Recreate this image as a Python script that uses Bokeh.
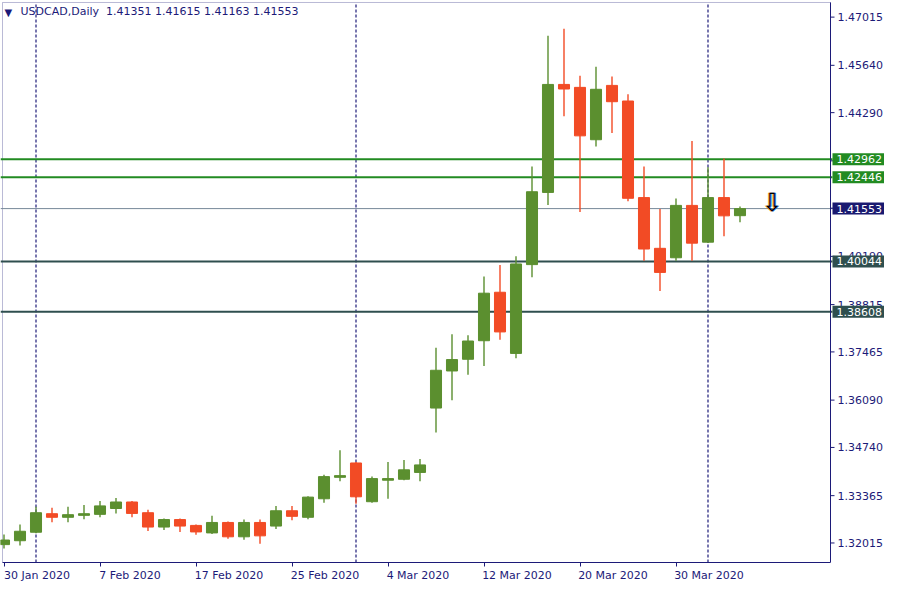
import pandas as pd
from bokeh.plotting import figure
from bokeh.models import (ColumnDataSource, FixedTicker, Label, Range1d,
                          BoxAnnotation)
from bokeh.embed import file_html
from bokeh.resources import INLINE
from bokeh.core.properties import value

# ---------------- data ----------------
dates = pd.bdate_range("2020-01-30", "2020-04-03")

opens = [1.31968, 1.32079, 1.32321, 1.32850, 1.32747, 1.32803, 1.32831, 1.32998,
         1.33184, 1.32878, 1.32469, 1.32683, 1.32516, 1.32302, 1.32600, 1.32191,
         1.32600, 1.32497, 1.32934, 1.32747, 1.33276, 1.33888, 1.34297, 1.33192,
         1.33805, 1.33832, 1.34027, 1.35864, 1.36921, 1.37255, 1.37784, 1.39167,
         1.37422, 1.39955, 1.42014, 1.45095, 1.45011, 1.43517, 1.45067, 1.44622,
         1.41867, 1.40420, 1.40150, 1.41644, 1.40595, 1.41867, 1.41351]
highs = [1.32257, 1.32544, 1.33045, 1.33017, 1.33045, 1.33100, 1.33212, 1.33295,
         1.33212, 1.32961, 1.32711, 1.32711, 1.32544, 1.32794, 1.32628, 1.32683,
         1.32683, 1.33073, 1.33073, 1.33351, 1.33963, 1.34659, 1.34325, 1.33908,
         1.34325, 1.34381, 1.34408, 1.37581, 1.37971, 1.37943, 1.39613, 1.39946,
         1.40197, 1.42757, 1.46486, 1.46681, 1.45345, 1.45596, 1.45318, 1.44817,
         1.42757, 1.41541, 1.41839, 1.43481, 1.42729, 1.42980, 1.41615]
lows = [1.31857, 1.31940, 1.32294, 1.32608, 1.32608, 1.32691, 1.32747, 1.32858,
        1.32747, 1.32357, 1.32385, 1.32330, 1.32246, 1.32274, 1.32135, 1.32107,
        1.31996, 1.32413, 1.32664, 1.32691, 1.33165, 1.33777, 1.33137, 1.33165,
        1.33276, 1.33805, 1.33777, 1.35168, 1.36087, 1.36810, 1.37061, 1.37812,
        1.37283, 1.39593, 1.41652, 1.44185, 1.41458, 1.43322, 1.43712, 1.41764,
        1.40066, 1.39203, 1.40066, 1.40066, 1.40573, 1.40762, 1.41163]
closes = [1.32099, 1.32349, 1.32878, 1.32747, 1.32822, 1.32850, 1.33073, 1.33184,
          1.32858, 1.32469, 1.32683, 1.32497, 1.32330, 1.32600, 1.32191, 1.32600,
          1.32218, 1.32934, 1.32775, 1.33323, 1.33908, 1.33936, 1.33332, 1.33852,
          1.33852, 1.34102, 1.34241, 1.36941, 1.37247, 1.37776, 1.39140, 1.38035,
          1.39974, 1.42034, 1.45095, 1.44964, 1.43628, 1.44956, 1.44602, 1.41847,
          1.40400, 1.39732, 1.41644, 1.40567, 1.41867, 1.41346, 1.41553]

x_tick_idx = [0, 6, 12, 18, 24, 30, 36, 42]
y_ticks = [1.47015, 1.45640, 1.44290, 1.42915, 1.41565, 1.40190, 1.38815,
           1.37465, 1.36090, 1.34740, 1.33365, 1.32015]
level_values = [1.42962, 1.42446, 1.40044, 1.38608]
level_colors = ["#228b22", "#228b22", "#2f4f4f", "#2f4f4f"]
symbol = "USDCAD,Daily"
arrow_idx = 48

# ---------------- style / layout ----------------
NAVY = "#1c1a78"
UP = "#5b8f2f"
DOWN = "#f24b25"
FONT = "DejaVu Sans"

W, H = 884, 584
BOTTOM = 20
FRAME_H = H - BOTTOM
PX = 16.0                      # pixels per bar
x_start = -3.5 / PX
x_end = x_start + W / PX
x_box = x_start + 2 / PX       # left edge of chart box
x_axis = x_start + 830 / PX    # price-scale line
y_bot, y_box_top = 1.31458, 1.47432
sy = (y_box_top - y_bot) / (FRAME_H - 2)
y_top = y_box_top + 2 * sy

n = len(closes)
xs = list(range(n))
colors = [UP if c >= o else DOWN for o, c in zip(opens, closes)]
src = ColumnDataSource(dict(
    x=xs,
    top=[max(o, c) for o, c in zip(opens, closes)],
    bottom=[min(o, c) for o, c in zip(opens, closes)],
    high=highs, low=lows, color=colors))

p = figure(width=W, height=H, output_backend="svg", toolbar_location=None,
           x_range=Range1d(x_start, x_end), y_range=Range1d(y_bot, y_top),
           y_axis_location=None, min_border_left=0, min_border_top=0,
           min_border_right=0, min_border_bottom=BOTTOM,
           background_fill_color="white", border_fill_color="white",
           outline_line_color=None)
p.grid.visible = False

# chart box
p.add_layout(BoxAnnotation(left=x_box, right=x_axis, bottom=y_bot, top=y_box_top,
                           fill_alpha=0, line_color=NAVY, line_width=1,
                           level="underlay"))

# month separators (period separators)
sep = [i for i in range(1, n) if dates[i].month != dates[i - 1].month]
p.segment(x0=sep, x1=sep, y0=y_bot, y1=y_box_top, line_color=NAVY,
          line_width=1.2, line_dash="3 2")

# level lines
lv_src = ColumnDataSource(dict(y=level_values, c=level_colors))
p.segment(x0=x_start, x1=x_axis + 2 / PX, y0="y", y1="y", line_color="c",
          line_width=2, source=lv_src)
p.segment(x0=[x_start], x1=[x_axis + 2 / PX], y0=[closes[-1]], y1=[closes[-1]],
          line_color="#778899", line_width=1)

# candles
p.segment(x0="x", y0="low", x1="x", y1="high", color="color", line_width=1.4,
          source=src)
p.vbar(x="x", top="top", bottom="bottom", width=0.69, fill_color="color",
       line_color="color", line_width=1, source=src)

# x axis: minor ticks mark the dates, labels start at the tick
labels = {}
for i in x_tick_idx:
    t = f"{dates[i].day} {dates[i]:%b %Y}"
    half = round(3.1 * len(t) - 1.5) / PX
    labels[i + half] = t
xa = p.xaxis[0]
xa.ticker = FixedTicker(ticks=list(labels.keys()), minor_ticks=x_tick_idx)
xa.major_label_overrides = labels
xa.bounds = (x_box, x_axis)
xa.major_tick_line_color = None
xa.major_tick_in = 0
xa.major_tick_out = 0
xa.minor_tick_in = 0
xa.minor_tick_out = 4
xa.minor_tick_line_color = NAVY
xa.axis_line_color = NAVY
xa.major_label_text_color = NAVY
xa.major_label_text_font = FONT
xa.major_label_text_font_size = "11px"
xa.major_label_standoff = 2

# right price scale
p.segment(x0=[x_axis], x1=[x_axis], y0=[y_bot], y1=[y_box_top], line_color=NAVY,
          line_width=1)
p.segment(x0=x_axis, x1=x_axis + 4 / PX, y0=y_ticks, y1=y_ticks, line_color=NAVY,
          line_width=1)
p.text(x=[x_axis + 7 / PX] * len(y_ticks), y=y_ticks,
       text=[f"{v:.5f}" for v in y_ticks], text_color=NAVY,
       text_font=value(FONT), text_font_size="11px", text_baseline="middle",
       text_align="left")

# price boxes on the scale
box_vals = level_values + [closes[-1]]
box_cols = level_colors + ["#191970"]
for v, c in zip(box_vals, box_cols):
    p.add_layout(Label(x=x_axis + 2 / PX, y=v, text=f"{v:.5f}",
                       text_color="white", text_font=FONT, text_font_size="11px",
                       text_baseline="middle", text_align="left",
                       background_fill_color=c,
                       padding=dict(left=4, right=3, top=2, bottom=2)))

# title
p.add_layout(Label(x=x_box, y=y_box_top, x_offset=2, y_offset=-5,
                   text="\u25BC", text_color=NAVY, text_font=FONT,
                   text_font_size="10px", text_baseline="top"))
last = n - 1
p.add_layout(Label(x=x_box, y=y_box_top, x_offset=18, y_offset=-3,
                   text=f"{symbol}\u00a0 {opens[last]:.5f} {highs[last]:.5f} "
                        f"{lows[last]:.5f} {closes[last]:.5f}",
                   text_color=NAVY, text_font=FONT, text_font_size="11px",
                   text_baseline="top"))

# sell arrow
asrc = ColumnDataSource(dict(x=[arrow_idx], y=[closes[-1]], t=["\u21E9"]))
for dx, col in ((-1, "#f0a030"), (1, "#1e6fd0"), (0, "black")):
    p.text(x="x", y="y", text="t", source=asrc, x_offset=dx, y_offset=8,
           text_color=col, text_font=value(FONT), text_font_size="25px",
           text_align="center", text_baseline="bottom")

open("out.html", "w").write(file_html(p, INLINE))
